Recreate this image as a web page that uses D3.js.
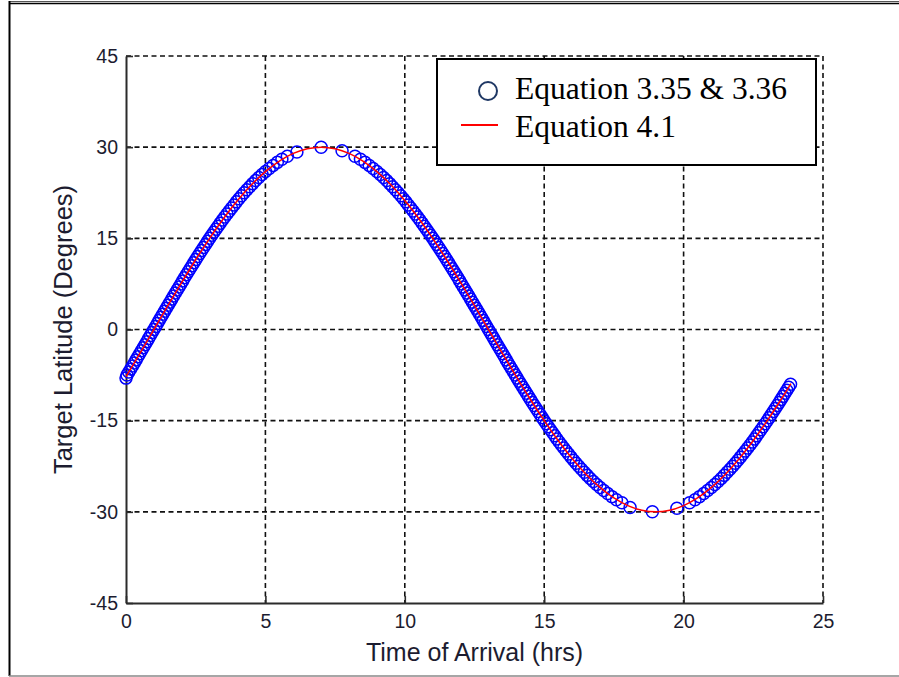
<!DOCTYPE html>
<html>
<head>
<meta charset="utf-8">
<script src="https://cdn.jsdelivr.net/npm/d3@7"></script>
<style>
  body { margin: 0; background: #fff; }
  svg { display: block; }
</style>
</head>
<body>
<div class="chart"></div>
<script>
const width = 899
const height = 677

// circles: "Equation 3.35 & 3.36"  [time (hrs), latitude (deg)]
const circlePoints = [
  [0.000, -8], [0.035, -7.5], [0.100, -7], [0.166, -6.5], [0.231, -6], [0.296, -5.5], [0.360, -5], [0.425, -4.5],
  [0.489, -4], [0.553, -3.5], [0.617, -3], [0.681, -2.5], [0.745, -2], [0.809, -1.5], [0.873, -1], [0.936, -0.5],
  [1.000, 0], [1.064, 0.5], [1.127, 1], [1.191, 1.5], [1.255, 2], [1.319, 2.5], [1.383, 3], [1.447, 3.5],
  [1.511, 4], [1.575, 4.5], [1.640, 5], [1.704, 5.5], [1.769, 6], [1.834, 6.5], [1.900, 7], [1.965, 7.5],
  [2.031, 8], [2.097, 8.5], [2.164, 9], [2.231, 9.5], [2.298, 10], [2.366, 10.5], [2.434, 11], [2.503, 11.5],
  [2.572, 12], [2.642, 12.5], [2.712, 13], [2.783, 13.5], [2.855, 14], [2.927, 14.5], [3.000, 15], [3.074, 15.5],
  [3.149, 16], [3.225, 16.5], [3.301, 17], [3.379, 17.5], [3.458, 18], [3.538, 18.5], [3.620, 19], [3.703, 19.5],
  [3.787, 20], [3.874, 20.5], [3.962, 21], [4.053, 21.5], [4.144, 22], [4.239, 22.5], [4.337, 23], [4.439, 23.5],
  [4.542, 24], [4.650, 24.5], [4.763, 25], [4.881, 25.5], [5.004, 26], [5.137, 26.5], [5.277, 27], [5.428, 27.5],
  [5.591, 28], [5.787, 28.5], [6.130, 29.2], [7.000, 30], [7.750, 29.4],
  [8.213, 28.5], [8.409, 28], [8.572, 27.5], [8.723, 27], [8.863, 26.5], [8.996, 26], [9.119, 25.5], [9.237, 25],
  [9.350, 24.5], [9.458, 24], [9.561, 23.5], [9.663, 23], [9.761, 22.5], [9.856, 22], [9.947, 21.5], [10.038, 21],
  [10.126, 20.5], [10.213, 20], [10.297, 19.5], [10.380, 19], [10.462, 18.5], [10.542, 18], [10.621, 17.5], [10.699, 17],
  [10.775, 16.5], [10.851, 16], [10.926, 15.5], [11.000, 15], [11.073, 14.5], [11.145, 14], [11.217, 13.5], [11.288, 13],
  [11.358, 12.5], [11.428, 12], [11.497, 11.5], [11.566, 11], [11.634, 10.5], [11.702, 10], [11.769, 9.5], [11.836, 9],
  [11.903, 8.5], [11.969, 8], [12.035, 7.5], [12.100, 7], [12.166, 6.5], [12.231, 6], [12.296, 5.5], [12.360, 5],
  [12.425, 4.5], [12.489, 4], [12.553, 3.5], [12.617, 3], [12.681, 2.5], [12.745, 2], [12.809, 1.5], [12.873, 1],
  [12.936, 0.5], [13.000, 0], [13.064, -0.5], [13.127, -1], [13.191, -1.5], [13.255, -2], [13.319, -2.5], [13.383, -3],
  [13.447, -3.5], [13.511, -4], [13.575, -4.5], [13.640, -5], [13.704, -5.5], [13.769, -6], [13.834, -6.5], [13.900, -7],
  [13.965, -7.5], [14.031, -8], [14.097, -8.5], [14.164, -9], [14.231, -9.5], [14.298, -10], [14.366, -10.5], [14.434, -11],
  [14.503, -11.5], [14.572, -12], [14.642, -12.5], [14.712, -13], [14.783, -13.5], [14.855, -14], [14.927, -14.5], [15.000, -15],
  [15.074, -15.5], [15.149, -16], [15.225, -16.5], [15.301, -17], [15.379, -17.5], [15.458, -18], [15.538, -18.5], [15.620, -19],
  [15.703, -19.5], [15.787, -20], [15.874, -20.5], [15.962, -21], [16.053, -21.5], [16.144, -22], [16.239, -22.5], [16.337, -23],
  [16.439, -23.5], [16.542, -24], [16.650, -24.5], [16.763, -25], [16.881, -25.5], [17.004, -26], [17.137, -26.5], [17.277, -27],
  [17.428, -27.5], [17.591, -28], [17.787, -28.5], [18.080, -29.3], [18.880, -30], [19.760, -29.4],
  [20.213, -28.5], [20.409, -28], [20.572, -27.5], [20.723, -27], [20.863, -26.5], [20.996, -26], [21.119, -25.5], [21.237, -25],
  [21.350, -24.5], [21.458, -24], [21.561, -23.5], [21.663, -23], [21.761, -22.5], [21.856, -22], [21.947, -21.5], [22.038, -21],
  [22.126, -20.5], [22.213, -20], [22.297, -19.5], [22.380, -19], [22.462, -18.5], [22.542, -18], [22.621, -17.5], [22.699, -17],
  [22.775, -16.5], [22.851, -16], [22.926, -15.5], [23.000, -15], [23.073, -14.5], [23.145, -14], [23.217, -13.5], [23.288, -13],
  [23.358, -12.5], [23.428, -12], [23.497, -11.5], [23.566, -11], [23.634, -10.5], [23.702, -10], [23.769, -9.5], [23.836, -9]
]

// red line: "Equation 4.1"
const lineTime = [
  0, 0.5, 1, 1.5, 2, 2.5, 3, 3.5, 4, 4.5, 5, 5.5, 6, 6.5, 7, 7.5, 8, 8.5, 9, 9.5, 10, 10.5, 11, 11.5,
  12, 12.5, 13, 13.5, 14, 14.5, 15, 15.5, 16, 16.5, 17, 17.5, 18, 18.5, 19, 19.5, 20, 20.5, 21, 21.5,
  22, 22.5, 23, 23.5, 23.85
]
const lineLat = [
  -7.76, -3.92, 0, 3.92, 7.76, 11.48, 15.0, 18.26, 21.21, 23.8, 25.98, 27.72, 28.98, 29.74, 30, 29.74,
  28.98, 27.72, 25.98, 23.8, 21.21, 18.26, 15.0, 11.48, 7.76, 3.92, 0, -3.92, -7.76, -11.48, -15.0, -18.26,
  -21.21, -23.8, -25.98, -27.72, -28.98, -29.74, -30, -29.74, -28.98, -27.72, -25.98, -23.8, -21.21, -18.26,
  -15.0, -11.48, -8.89
]

const xTicks = [0, 5, 10, 15, 20, 25]
const yTicks = [-45, -30, -15, 0, 15, 30, 45]
const legendLabels = ["Equation 3.35 & 3.36", "Equation 4.1"]

const margin = { top: 56, right: 76, bottom: 74, left: 126 }
const innerWidth = width - margin.left - margin.right
const innerHeight = height - margin.top - margin.bottom

const svg = d3.select(".chart")
  .append("svg")
  .attr("width", width)
  .attr("height", height)

// figure frame
svg.append("line").attr("x1", 9).attr("x2", width).attr("y1", 1.5).attr("y2", 1.5)
  .attr("stroke", "#555").attr("stroke-width", 1)
svg.append("line").attr("x1", 9).attr("x2", width).attr("y1", 3.5).attr("y2", 3.5)
  .attr("stroke", "#000").attr("stroke-width", 1.5)
svg.append("line").attr("x1", 9.5).attr("x2", 9.5).attr("y1", 1).attr("y2", 676)
  .attr("stroke", "#000").attr("stroke-width", 2)
svg.append("line").attr("x1", 9).attr("x2", width).attr("y1", 676).attr("y2", 676)
  .attr("stroke", "#888").attr("stroke-width", 1.5)

const xScale = d3.scaleLinear().domain([0, 25]).range([0, innerWidth])
const yScale = d3.scaleLinear().domain([-45, 45]).range([innerHeight, 0])

const g = svg.append("g")
  .attr("transform", `translate(${margin.left}, ${margin.top})`)

// grid
g.append("g").selectAll("line")
  .data(xTicks.filter(d => d > 0))
  .enter().append("line")
    .attr("x1", d => xScale(d)).attr("x2", d => xScale(d))
    .attr("y1", 0).attr("y2", innerHeight)
    .attr("stroke", "#111").attr("stroke-width", 1.6)
    .attr("stroke-dasharray", "5,3.5")

g.append("g").selectAll("line")
  .data(yTicks.filter(d => d > -45))
  .enter().append("line")
    .attr("x1", 0).attr("x2", innerWidth)
    .attr("y1", d => yScale(d)).attr("y2", d => yScale(d))
    .attr("stroke", "#111").attr("stroke-width", 1.6)
    .attr("stroke-dasharray", "5,3.5")

// axes
const xAxis = g.append("g")
  .attr("transform", `translate(0, ${innerHeight})`)
  .call(d3.axisBottom(xScale).tickValues(xTicks).tickFormat(d => String(d))
    .tickSizeInner(-7).tickSizeOuter(0).tickPadding(11))
const yAxis = g.append("g")
  .call(d3.axisLeft(yScale).tickValues(yTicks).tickFormat(d => String(d))
    .tickSizeInner(-7).tickSizeOuter(0).tickPadding(8))

;[xAxis, yAxis].forEach(a => {
  a.select("path.domain").attr("stroke", "#2b2b2b").attr("stroke-width", 2)
  a.selectAll(".tick line").attr("stroke", "#2b2b2b").attr("stroke-width", 1.6)
  a.selectAll(".tick text")
    .attr("fill", "#1c1c30")
    .style("font-family", "'Liberation Sans', Arial, sans-serif")
    .style("font-size", "19.5px")
})
xAxis.selectAll(".tick text").attr("dy", "0.72em")

// circles
g.selectAll("circle.pt")
  .data(circlePoints)
  .enter().append("circle")
    .attr("class", "pt")
    .attr("cx", d => xScale(d[0]))
    .attr("cy", d => yScale(d[1]))
    .attr("r", 6)
    .attr("fill", "none")
    .attr("stroke", "#0000ff")
    .attr("stroke-width", 1.5)

// red line (drawn over the circles)
const line = d3.line()
  .x(d => xScale(d[0]))
  .y(d => yScale(d[1]))
  .curve(d3.curveCatmullRom)

g.append("path")
  .datum(lineTime.map((t, i) => [t, lineLat[i]]))
  .attr("d", line)
  .attr("fill", "none")
  .attr("stroke", "#ff0000")
  .attr("stroke-width", 1.5)

// axis labels
svg.append("text")
  .attr("x", margin.left + innerWidth / 2)
  .attr("y", 661)
  .attr("text-anchor", "middle")
  .attr("fill", "#1c1c30")
  .style("font-family", "'Liberation Sans', Arial, sans-serif")
  .style("font-size", "25px")
  .text("Time of Arrival (hrs)")

svg.append("text")
  .attr("transform", `translate(72, ${margin.top + innerHeight / 2}) rotate(-90)`)
  .attr("text-anchor", "middle")
  .attr("fill", "#1c1c30")
  .style("font-family", "'Liberation Sans', Arial, sans-serif")
  .style("font-size", "25.5px")
  .text("Target Latitude (Degrees)")

// legend
const legend = svg.append("g").attr("transform", "translate(437, 59)")
legend.append("rect")
  .attr("width", 379).attr("height", 106)
  .attr("fill", "#fff").attr("stroke", "#000").attr("stroke-width", 2)

legend.append("circle")
  .attr("cx", 51).attr("cy", 32).attr("r", 9)
  .attr("fill", "none").attr("stroke", "#1f3864").attr("stroke-width", 2)
legend.append("line")
  .attr("x1", 24).attr("x2", 61).attr("y1", 66).attr("y2", 66)
  .attr("stroke", "#ff0000").attr("stroke-width", 2)

legend.selectAll("text")
  .data(legendLabels)
  .enter().append("text")
    .attr("x", 78)
    .attr("y", (d, i) => 40 + i * 38)
    .attr("fill", "#000")
    .style("font-family", "'Liberation Serif', 'Times New Roman', serif")
    .style("font-size", "31.5px")
    .text(d => d)
</script>
</body>
</html>
